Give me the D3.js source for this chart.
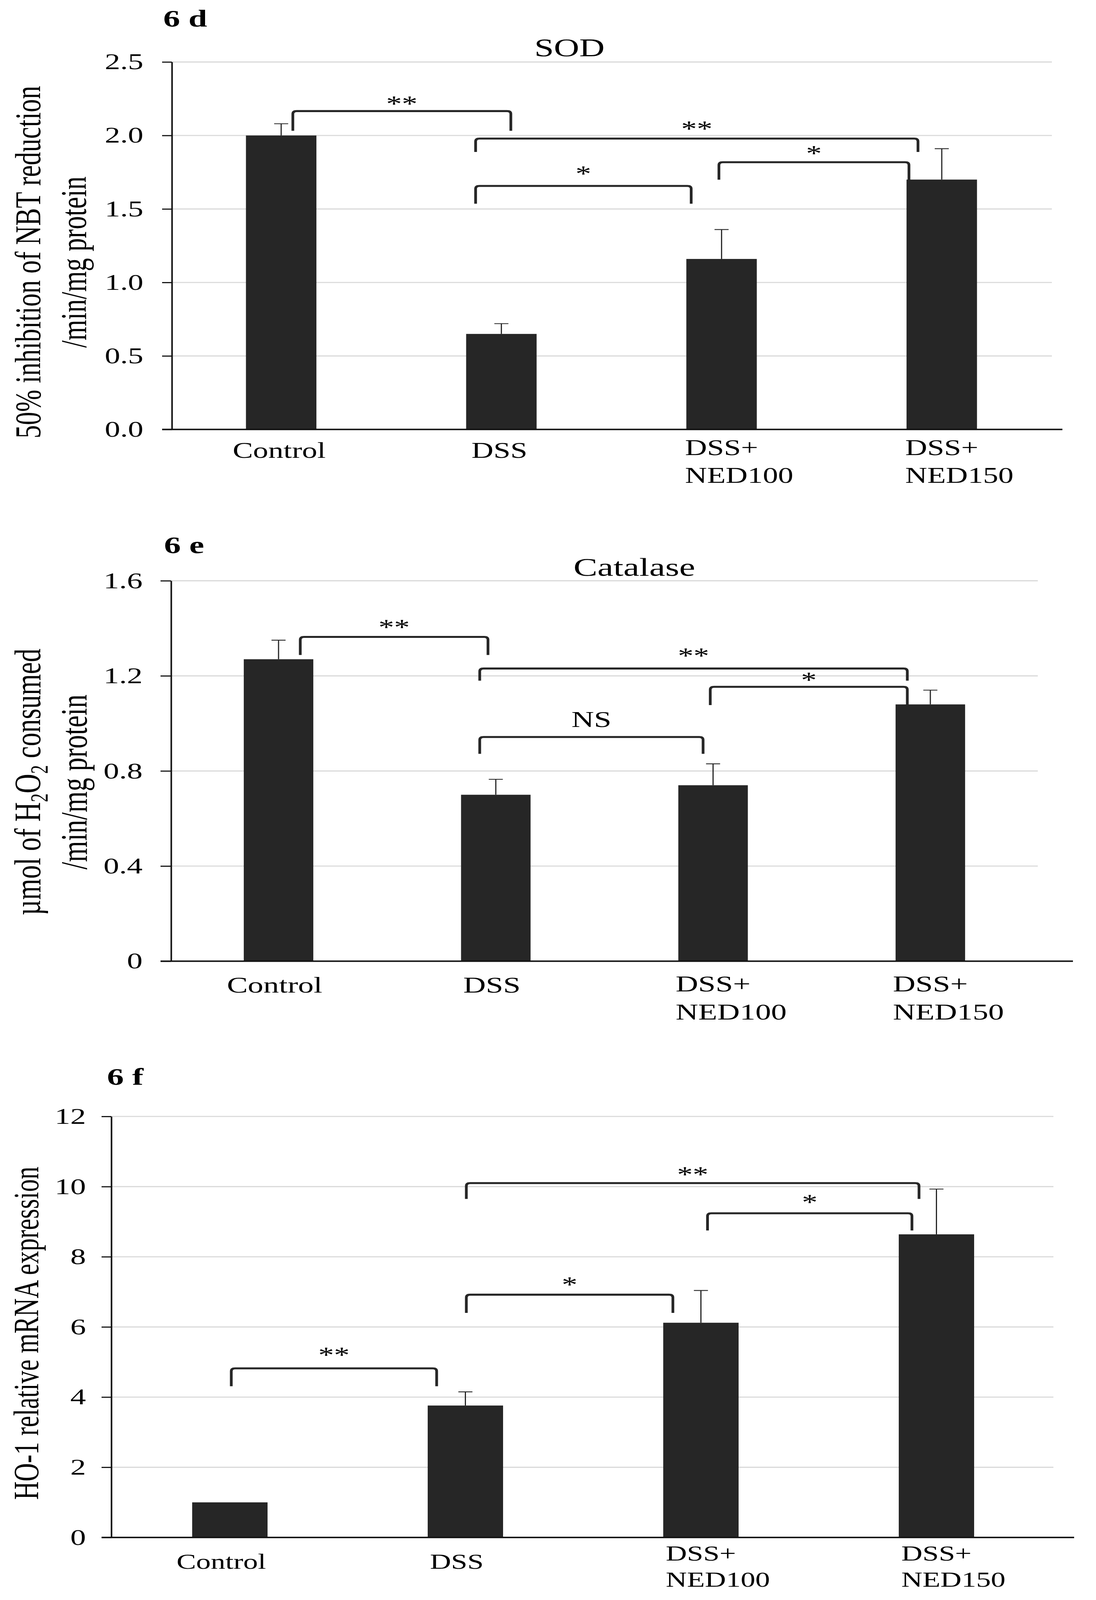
<!DOCTYPE html>
<html>
<head>
<meta charset="utf-8">
<script src="https://cdn.jsdelivr.net/npm/d3@7"></script>
<style>
html, body { margin: 0; padding: 0; background: #fff; overflow: hidden; }
svg { display: block; }
svg text { font-family: "Liberation Serif", "Times New Roman", serif; fill: #000; }
</style>
</head>
<body>
<svg id="chart"></svg>
<script>
// groups on the x axis (label lines as printed)
const groups = ["Control", "DSS", "DSS+NED100", "DSS+NED150"];
const groupLines = [["Control"], ["DSS"], ["DSS+", "NED100"], ["DSS+", "NED150"]];

// 6 d - SOD
const sodMean = [2.00, 0.65, 1.16, 1.70];
const sodErr = [0.08, 0.07, 0.20, 0.21];
const sodTicks = [0, 0.5, 1.0, 1.5, 2.0, 2.5];
// a/b = ends in group index units, top/foot/lab in data units
const sodBrackets = [
    { a: 0.053, b: 1.043, top: 2.166, foot: 2.032, lab: 2.237, text: "**" },
    { a: 0.883, b: 2.892, top: 1.979, foot: 1.888, lab: 2.067, text: "**" },
    { a: 0.883, b: 1.862, top: 1.657, foot: 1.536, lab: 1.760, text: "*" },
    { a: 1.988, b: 2.851, top: 1.818, foot: 1.699, lab: 1.900, text: "*" }
];

// 6 e - Catalase
const catMean = [1.27, 0.70, 0.74, 1.08];
const catErr = [0.08, 0.065, 0.09, 0.06];
const catTicks = [0, 0.4, 0.8, 1.2, 1.6];
const catBrackets = [
    { a: 0.100, b: 0.964, top: 1.364, foot: 1.288, lab: 1.417, text: "**" },
    { a: 0.926, b: 2.894, top: 1.231, foot: 1.180, lab: 1.298, text: "**" },
    { a: 1.987, b: 2.894, top: 1.154, foot: 1.077, lab: 1.195, text: "*" },
    { a: 0.926, b: 1.954, top: 0.943, foot: 0.872, lab: 1.017, text: "NS" }
];

// 6 f - HO-1
const hoMean = [1.0, 3.76, 6.12, 8.64];
const hoErr = [0, 0.39, 0.92, 1.29];
const hoTicks = [0, 2, 4, 6, 8, 10, 12];
const hoBrackets = [
    { a: 0.006, b: 0.878, top: 4.82, foot: 4.31, lab: 5.285, text: "**" },
    { a: 1.004, b: 1.881, top: 6.92, foot: 6.40, lab: 7.293, text: "*" },
    { a: 2.028, b: 2.896, top: 9.24, foot: 8.75, lab: 9.647, text: "*" },
    { a: 1.004, b: 2.926, top: 10.10, foot: 9.65, lab: 10.43, text: "**" }
];

const panels = [
    {
        mean: sodMean, err: sodErr, ticks: sodTicks, fmt: d3.format(".1f"), brackets: sodBrackets,
        tag: "6 d", tagX: 418, tagY: 94, title: "SOD", titleX: 1458, titleY: 200, titleSize: 90,
        yTitle: [[{ t: "50% inhibition of NBT reduction" }], [{ t: "/min/mg protein" }]],
        yTitleX: [103, 220], yTitleY: 930, yTitleSize: 94,
        x0: 438, x1: 2693, axisX: 440, top: 220, bottom: 1524, gridEnd: 2693, axisEnd: 2720,
        tickLen: 25, tickPad: 48, tickSize: 79, labSize: 78, labDx: -5, lab1: 100, lab2: [91, 189]
    },
    {
        mean: catMean, err: catErr, ticks: catTicks, fmt: d => d === 0 ? "0" : d3.format(".1f")(d), brackets: catBrackets,
        tag: "6 e", tagX: 420, tagY: 1963, title: "Catalase", titleX: 1624, titleY: 2043, titleSize: 92,
        yTitle: [
            [{ t: "µmol of H" }, { t: "2", sub: true }, { t: "O" }, { t: "2", sub: true }, { t: " consumed" }],
            [{ t: "/min/mg protein" }]
        ],
        yTitleX: [103, 222], yTitleY: 2775, yTitleSize: 96,
        x0: 435, x1: 2660, axisX: 438, top: 2061, bottom: 3411, gridEnd: 2657, axisEnd: 2747,
        tickLen: 27, tickPad: 46, tickSize: 80, labSize: 80, labDx: -10, lab1: 111, lab2: [107, 207]
    },
    {
        mean: hoMean, err: hoErr, ticks: hoTicks, fmt: d3.format("d"), brackets: hoBrackets,
        tag: "6 f", tagX: 274, tagY: 3850, title: null,
        yTitle: [[{ t: "HO-1 relative mRNA expression" }]],
        yTitleX: [98], yTitleY: 4731, yTitleSize: 90,
        x0: 287, x1: 2699, axisX: 285, top: 3962, bottom: 5456, gridEnd: 2697, axisEnd: 2750,
        tickLen: 25, tickPad: 40, tickSize: 80, labSize: 75, labDx: -22, lab1: 111, lab2: [82, 175]
    }
];

// the figure is laid out on a 2806 x 5678 canvas and fitted to the window
const W = 2806, H = 5678;
const svg = d3.select("#chart")
    .attr("width", window.innerWidth || W)
    .attr("height", window.innerHeight || H)
    .attr("viewBox", `0 0 ${W} ${H}`)
    .attr("preserveAspectRatio", "none");
const ink = "#262626";

panels.forEach(p => {
    const g = svg.append("g");
    const x = d3.scaleBand().domain(groups).range([p.x0, p.x1]).paddingInner(0.68).paddingOuter(0.34);
    const y = d3.scaleLinear().domain([0, d3.max(p.ticks)]).range([p.bottom, p.top]);
    const cx = t => x(groups[0]) + x.bandwidth() / 2 + t * x.step();

    // gridlines
    g.selectAll(".grid").data(p.ticks.filter(v => v > 0)).join("line")
        .attr("class", "grid")
        .attr("x1", p.axisX).attr("x2", p.gridEnd)
        .attr("y1", d => y(d)).attr("y2", d => y(d))
        .attr("stroke", "#d9d9d9").attr("stroke-width", 4);

    // bars
    g.selectAll(".bar").data(p.mean).join("rect")
        .attr("class", "bar")
        .attr("x", (d, i) => x(groups[i]))
        .attr("width", x.bandwidth())
        .attr("y", d => y(d))
        .attr("height", d => y(0) - y(d))
        .attr("fill", ink);

    // error bars (upper half only)
    const errs = p.mean.map((m, i) => ({ m, e: p.err[i], i })).filter(d => d.e > 0);
    g.selectAll(".err").data(errs).join("line")
        .attr("class", "err")
        .attr("x1", d => cx(d.i)).attr("x2", d => cx(d.i))
        .attr("y1", d => y(d.m)).attr("y2", d => y(d.m + d.e))
        .attr("stroke", ink).attr("stroke-width", 3);
    g.selectAll(".cap").data(errs).join("line")
        .attr("class", "cap")
        .attr("x1", d => cx(d.i) - 18).attr("x2", d => cx(d.i) + 18)
        .attr("y1", d => y(d.m + d.e)).attr("y2", d => y(d.m + d.e))
        .attr("stroke", ink).attr("stroke-width", 3);

    // y axis
    const yAxis = d3.axisLeft(y).tickValues(p.ticks).tickFormat(p.fmt)
        .tickSize(p.tickLen).tickSizeOuter(0).tickPadding(p.tickPad);
    const ya = g.append("g").attr("transform", `translate(${p.axisX},0)`).call(yAxis);
    ya.attr("font-size", p.tickSize);
    ya.select(".domain").attr("stroke", "#111").attr("stroke-width", 4);
    ya.selectAll(".tick line").attr("stroke", "#111").attr("stroke-width", 4);
    ya.selectAll(".tick text").attr("fill", "#000");

    // x axis line
    g.append("line")
        .attr("x1", p.axisX - p.tickLen).attr("x2", p.axisEnd)
        .attr("y1", y(0)).attr("y2", y(0))
        .attr("stroke", "#111").attr("stroke-width", 5);

    // category labels
    groupLines.forEach((lines, i) => {
        if (lines.length === 1) {
            g.append("text").text(lines[0])
                .attr("x", cx(i) + p.labDx).attr("y", y(0) + p.lab1)
                .attr("text-anchor", "middle").attr("font-size", p.labSize);
        } else {
            const first = g.append("text").text(lines[0])
                .attr("y", y(0) + p.lab2[0]).attr("font-size", p.labSize);
            const left = cx(i) - first.node().getComputedTextLength() / 2;
            first.attr("x", left);
            g.append("text").text(lines[1])
                .attr("x", left).attr("y", y(0) + p.lab2[1]).attr("font-size", p.labSize);
        }
    });

    // significance brackets
    const r = 10;
    g.selectAll(".bracket").data(p.brackets).join("path")
        .attr("class", "bracket")
        .attr("d", d => {
            const xa = cx(d.a), xb = cx(d.b), yt = y(d.top), yf = y(d.foot);
            return `M${xa},${yf}V${yt + r}Q${xa},${yt} ${xa + r},${yt}H${xb - r}Q${xb},${yt} ${xb},${yt + r}V${yf}`;
        })
        .attr("fill", "none").attr("stroke", ink).attr("stroke-width", 7);
    g.selectAll(".sig").data(p.brackets).join("text")
        .attr("class", "sig")
        .attr("x", d => cx((d.a + d.b) / 2))
        .attr("y", d => y(d.lab) + (d.text === "NS" ? 0.33 : 0.47) * 80)
        .attr("text-anchor", "middle")
        .attr("font-size", 80)
        .text(d => d.text);

    // panel tag and title
    g.append("text").text(p.tag)
        .attr("x", p.tagX).attr("y", p.tagY)
        .attr("font-size", 86).attr("font-weight", "bold");
    if (p.title) {
        g.append("text").text(p.title)
            .attr("x", p.titleX).attr("y", p.titleY)
            .attr("text-anchor", "middle").attr("font-size", p.titleSize);
    }

    // y axis title (rotated, one text per line)
    p.yTitle.forEach((segs, li) => {
        const t = g.append("text")
            .attr("transform", `translate(${p.yTitleX[li]},${p.yTitleY}) rotate(-90)`)
            .attr("text-anchor", "middle")
            .attr("font-size", p.yTitleSize);
        let afterSub = false;
        segs.forEach(s => {
            if (s.sub) {
                t.append("tspan").text(s.t).attr("font-size", p.yTitleSize * 0.65).attr("dy", "0.3em");
                afterSub = true;
            } else {
                t.append("tspan").text(s.t).attr("dy", afterSub ? "-0.195em" : null);
                afterSub = false;
            }
        });
    });
});
</script>
</body>
</html>
